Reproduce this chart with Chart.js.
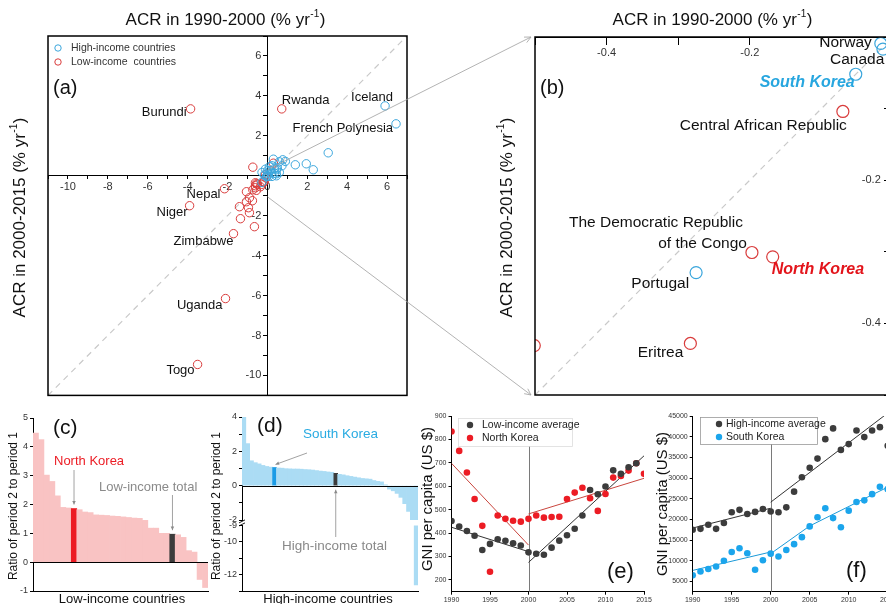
<!DOCTYPE html>
<html>
<head>
<meta charset="utf-8">
<title>ACR figure</title>
<script src="https://cdn.jsdelivr.net/npm/chart.js@4.4.1/dist/chart.umd.min.js"></script>
<style>
  html, body { margin: 0; padding: 0; background: #fff; overflow: hidden; }
  #fig { position: relative; width: 886px; height: 604px; overflow: hidden; background: #fff; }
  #fig canvas { position: absolute; }
</style>
</head>
<body>
<div id="fig">
  <canvas id="chartA" width="540" height="404" style="left:0px;top:0px"></canvas>
  <canvas id="chartB" width="470" height="404" style="left:440px;top:0px"></canvas>
  <canvas id="chartC" width="215" height="204" style="left:0px;top:400px"></canvas>
  <canvas id="chartD" width="215" height="204" style="left:210px;top:400px"></canvas>
  <canvas id="chartD2" width="215" height="86" style="left:210px;top:518px"></canvas>
  <canvas id="chartE" width="256" height="204" style="left:400px;top:400px"></canvas>
  <canvas id="chartF" width="260" height="204" style="left:640px;top:400px"></canvas>
</div>
<script>
// ---- (a)/(b) ACR in 1990-2000 (x) vs 2000-2015 (y), % per yr
// named countries first, the rest are unlabelled circles
const highName = ['Iceland', 'French Polynesia', 'Norway', 'Canada', 'South Korea', 'Portugal'];
const highX = [5.9, 6.45, -0.017, -0.014, -0.052, -0.275,
  3.05, 1.95, 2.3, 1.4, 0.9, 0.77, 0.3, 0.6, 0.5, 0.35, 0.1, 0.6, 0.45, 0.2, 0.0,
  -0.27, -0.1, 0.02, 0.15, 0.23, 0.47, 0.73, 0.07, -0.15, 0.23, 0.45, 0.35];
const highY = [3.5, 2.6, -0.009, -0.017, -0.052, -0.329,
  1.15, 0.6, 0.3, 0.55, 0.72, 0.8, 0.83, 0.7, 0.4, 0.35, 0.45, 0.17, 0.1, 0.15, 0.25,
  0.17, 0.33, 0.13, 0.27, 0.5, 0.33, 0.5, -0.03, 0.04, -0.03, 0.0, 0.13];

const lowName = ['Burundi', 'Rwanda', 'Nepal', 'Niger', 'Zimbabwe', 'Uganda', 'Togo',
  'Central African Republic', 'The Democratic Republic of the Congo', 'North Korea', 'Eritrea'];
const lowX = [-3.85, 0.72, -2.15, -3.9, -1.7, -2.1, -3.5, -0.07, -0.197, -0.168, -0.283,
  -0.501, -0.73, 0.3, -0.6, -1.05, -0.73, -0.55, -0.9, -0.75, -1.05, -1.4, -0.95, -1.35, -0.9, -0.65,
  -0.35, -0.55, -0.6, -0.1, -0.6];
const lowY = [3.35, 3.35, -0.65, -1.5, -2.9, -6.15, -9.45, -0.104, -0.301, -0.307, -0.428,
  -0.431, 0.43, 0.63, -0.35, -0.8, -0.7, -0.73, -1.1, -1.25, -1.3, -1.55, -1.6, -2.15, -1.85, -2.55,
  -0.55, -0.4, -0.5, 0.04, -0.6];

// ---- (c)/(d) ratio of period 2 to period 1, sorted
const lowRatio = [4.48, 4.25, 3.02, 2.8, 2.3, 1.9, 1.88, 1.86, 1.82, 1.74, 1.72, 1.64, 1.63, 1.62,
  1.6, 1.59, 1.57, 1.55, 1.53, 1.52, 1.45, 1.18, 1.18, 1.0, 1.0, 0.97, 0.95, 0.86, 0.4, 0.35, -0.6, -0.88];
const lowKeyNames = ['North Korea', 'Low-income total'];
const lowKeyIdx = [7, 25];

const highRatio = [4.0, 2.45, 1.45, 1.34, 1.27, 1.18, 1.12, 1.08, 1.06, 1.03, 1.02, 0.99, 0.98, 0.97,
  0.97, 0.96, 0.94, 0.93, 0.91, 0.88, 0.85, 0.83, 0.8, 0.78, 0.72, 0.66, 0.63, 0.58, 0.54, 0.5, 0.46,
  0.42, 0.4, 0.38, 0.3, 0.25, 0.22, 0.05, -0.2, -0.3, -0.45, -0.68, -1.05, -1.5, -2.5, -12.6];
const highKeyNames = ['South Korea', 'High-income total'];
const highKeyIdx = [8, 24];

// ---- (e)/(f) GNI per capita, US $
const gniYears = [1990, 1991, 1992, 1993, 1994, 1995, 1996, 1997, 1998, 1999, 2000, 2001, 2002,
  2003, 2004, 2005, 2006, 2007, 2008, 2009, 2010, 2011, 2012, 2013, 2014, 2015];
const lowAvgGni = [452, 428, 409, 389, 328, 354, 374, 367, 357, 347, 318, 312, 308, 338, 368, 391,
  419, 475, 584, 566, 599, 668, 653, 681, 698, null];
const nkGni = [834, 751, 659, 546, 431, 235, 475, 461, 453, 449, 461, 475, 466, 469, 470, 546, 573,
  594, 549, 495, 567, 637, 644, 667, 698, 653];
const highAvgGni = [17500, 17700, 18700, 17700, 19100, 21700, 22300, 21300, 21800, 22500, 21900,
  21700, 22900, 26700, 30200, 32500, 34700, 39400, 42000, 36800, 38200, 41500, 39900, 41500, 42300, 37800];
const skGni = [6450, 7400, 8000, 8600, 10000, 12100, 13000, 11800, 7800, 10100, 11700, 11000, 12600,
  14000, 15700, 18300, 20500, 22700, 20300, 18100, 22100, 24200, 24600, 26100, 27900, 27300];
const gniLowTicks = [200, 300, 400, 500, 600, 700, 800, 900];
const gniHighTicks = [5000, 10000, 15000, 20000, 25000, 30000, 35000, 40000, 45000];

// fitted trend lines
const breakYear = 2000;
const fitYears1 = [1990, 2000];
const fitYears2 = [2000, 2015];
const lowAvgFit1 = [425, 321];
const lowAvgFit2 = [275, 730];
const nkFit1 = [698, 349];
const nkFit2 = [482, 634];
const highAvgFit1 = [17900, 22700];
const highAvgFit2 = [24150, 45700];
const skFit1 = [7650, 12100];
const skFitYears2 = [2000, 2005, 2015];
const skFit2 = [11700, 18400, 27800];

// ---- styles
const FF = '"Liberation Sans", Arial, Helvetica, sans-serif';
const BLUE = '#3ba6dc', RED = '#d93c3c';
const NK_RED = '#ec1c24', DARK = '#3c3c3c', PINK = '#f9c3c3', SKY = '#abdcf4', SK_BLUE = '#1a9be6';
const LABEL_GREY = '#8a8a8a';

Chart.defaults.font.family = FF;
Chart.defaults.color = '#222';
Chart.defaults.animation = false;
Chart.defaults.responsive = false;
Chart.defaults.events = [];
Chart.defaults.plugins.legend.display = false;
Chart.defaults.plugins.tooltip.enabled = false;

const pts = (xs, ys) => xs.map((x, i) => ({x: x, y: ys[i]})).filter(p => p.y !== null);

function put(ctx, s, x, y, size, color, align, style) {
  ctx.save();
  ctx.font = (style ? style + ' ' : '') + size + 'px ' + FF;
  ctx.fillStyle = color || '#111';
  ctx.textAlign = align || 'left';
  ctx.textBaseline = 'middle';
  ctx.fillText(s, x, y);
  ctx.restore();
}
function putV(ctx, s, x, y, size, color) {
  ctx.save();
  ctx.translate(x, y);
  ctx.rotate(-Math.PI / 2);
  put(ctx, s, 0, 0, size, color, 'center');
  ctx.restore();
}
// "ACR in .... (% yr-1)" with the superscript
function acrTitle(ctx, period, x, y, rotate) {
  const size = 17, small = 10;
  const base = 'ACR in ' + period + ' (% yr', sup = '-1', tail = ')';
  ctx.save();
  ctx.translate(x, y);
  if (rotate) ctx.rotate(-Math.PI / 2);
  ctx.fillStyle = '#111';
  ctx.textBaseline = 'middle';
  ctx.textAlign = 'left';
  ctx.font = size + 'px ' + FF;
  const w1 = ctx.measureText(base).width, w3 = ctx.measureText(tail).width;
  ctx.font = small + 'px ' + FF;
  const w2 = ctx.measureText(sup).width;
  let px = -(w1 + w2 + w3) / 2;
  ctx.font = size + 'px ' + FF;
  ctx.fillText(base, px, 0);
  px += w1;
  ctx.font = small + 'px ' + FF;
  ctx.fillText(sup, px + 0.5, -6);
  px += w2 + 1;
  ctx.font = size + 'px ' + FF;
  ctx.fillText(tail, px, 0);
  ctx.restore();
}
function arrow(ctx, x1, y1, x2, y2, color, head, filled, lw) {
  const a = Math.atan2(y2 - y1, x2 - x1);
  ctx.save();
  ctx.strokeStyle = color;
  ctx.fillStyle = color;
  ctx.lineWidth = lw || 1;
  ctx.beginPath();
  ctx.moveTo(x1, y1);
  ctx.lineTo(x2, y2);
  ctx.stroke();
  ctx.beginPath();
  if (filled) {
    ctx.moveTo(x2, y2);
    ctx.lineTo(x2 - head * Math.cos(a - 0.45), y2 - head * Math.sin(a - 0.45));
    ctx.lineTo(x2 - head * Math.cos(a + 0.45), y2 - head * Math.sin(a + 0.45));
    ctx.closePath();
    ctx.fill();
  } else {
    ctx.moveTo(x2 - head * Math.cos(a - 0.45), y2 - head * Math.sin(a - 0.45));
    ctx.lineTo(x2, y2);
    ctx.lineTo(x2 - head * Math.cos(a + 0.45), y2 - head * Math.sin(a + 0.45));
    ctx.stroke();
  }
  ctx.restore();
}
function drawTags(chart, di, names, tags, size) {
  const meta = chart.getDatasetMeta(di);
  names.forEach((n, i) => {
    const t = tags[n];
    if (!t) return;
    const p = meta.data[i];
    const lines = t.lines || [[n, t.dx, t.dy]];
    lines.forEach(l => put(chart.ctx, l[0], p.x + l[1], p.y + l[2], t.size || size, t.color || '#111', t.align, t.style));
  });
}
function frame(chart, lw) {
  const a = chart.chartArea, ctx = chart.ctx;
  ctx.save();
  ctx.strokeStyle = '#000';
  ctx.lineWidth = lw;
  ctx.strokeRect(a.left, a.top, a.right - a.left, a.bottom - a.top);
  ctx.restore();
}
function zeroLine(chart) {
  const a = chart.chartArea, ctx = chart.ctx, y = chart.scales.y.getPixelForValue(0);
  if (y < a.top || y > a.bottom) return;
  ctx.save();
  ctx.strokeStyle = '#000';
  ctx.lineWidth = 1;
  ctx.beginPath();
  ctx.moveTo(a.left, Math.round(y) + 0.5);
  ctx.lineTo(a.right, Math.round(y) + 0.5);
  ctx.stroke();
  ctx.restore();
}

// label placement next to the circles (px)
const tagA = {
  'Burundi': {dx: -4, dy: 4, align: 'right'},
  'Rwanda': {dx: 0, dy: -8, align: 'left'},
  'Iceland': {dx: -13, dy: -8, align: 'center'},
  'French Polynesia': {dx: -3, dy: 5, align: 'right'},
  'Nepal': {dx: -4, dy: 6, align: 'right'},
  'Niger': {dx: -2, dy: 7, align: 'right'},
  'Zimbabwe': {dx: 0, dy: 8, align: 'right'},
  'Uganda': {dx: -3, dy: 7, align: 'right'},
  'Togo': {dx: -3, dy: 6, align: 'right'}
};
const tagB = {
  'Norway': {dx: -9, dy: -1, align: 'right'},
  'Canada': {dx: -53, dy: 11, align: 'left'},
  'South Korea': {dx: -1, dy: 8, align: 'right', style: 'italic bold', color: '#27a6df', size: 16},
  'Central African Republic': {dx: 4, dy: 14, align: 'right'},
  'The Democratic Republic of the Congo': {align: 'right',
    lines: [['The Democratic Republic', -9, -30], ['of the Congo', -5, -9]]},
  'North Korea': {dx: -1, dy: 13, align: 'left', style: 'italic bold', color: '#e3141b', size: 16},
  'Portugal': {dx: -7, dy: 11, align: 'right'},
  'Eritrea': {dx: -7, dy: 9, align: 'right'}
};

function acrScale(min, max, step, pos, labelFn, tick, font) {
  return {
    type: 'linear', min: min, max: max, position: pos,
    ticks: {stepSize: step, autoSkip: false, maxRotation: 0, includeBounds: false,
      font: {size: font}, color: '#333', padding: 2, callback: labelFn},
    grid: {drawOnChartArea: false, drawTicks: true, tickLength: tick, tickColor: '#000'},
    border: {color: '#000', width: 1}
  };
}
function circles(xs, ys, color, r, lw) {
  return {data: pts(xs, ys), pointRadius: r, pointBorderWidth: lw, pointBorderColor: color,
    pointBackgroundColor: 'rgba(0,0,0,0)', showLine: false, clip: 0, order: 1};
}
function diagonal(lo, hi) {
  return {data: [{x: lo, y: lo}, {x: hi, y: hi}], showLine: true, borderColor: '#c9c9c9',
    borderDash: [6, 5], borderWidth: 1.2, pointRadius: 0, order: 3};
}

//-----(b) zoom of the origin
// a y axis sitting on x=0 puts its labels flush on the line, so pad them with spaces
const bMin = -0.5, bMaxX = 0.0098;
const tenths = v => {
  const k = Math.round(v * 10);
  return (k % 2 === 0 && k !== 0) ? (k / 10).toFixed(1) : '';
};
const chartB = new Chart(document.getElementById('chartB'), {
  type: 'scatter',
  data: {datasets: [
    circles(highX, highY, BLUE, 6, 1.2),
    circles(lowX, lowY, RED, 6, 1.2),
    diagonal(bMin, 0)
  ]},
  options: {
    layout: {padding: {left: 95, top: 37, right: 10, bottom: 9}},
    scales: {
      x: acrScale(bMin, bMaxX, 0.1, {y: 0}, tenths, 7, 11),
      y: acrScale(bMin, 0, 0.1, {x: 0}, v => (tenths(v) ? tenths(v) + '    ' : ''), 8, 11)
    }
  },
  plugins: [{id: 'panelB', afterDraw(c) {
    const ctx = c.ctx;
    frame(c, 1.5);
    acrTitle(ctx, '1990-2000', 272, 20, false);
    acrTitle(ctx, '2000-2015', 67, 218, true);
    put(ctx, '(b)', 100, 88, 20, '#111');
    drawTags(c, 0, highName, tagB, 15.5);
    drawTags(c, 1, lowName, tagB, 15.5);
  }}]
});

//-----(a) all countries
const aMin = -11, aMax = 7;
const zoomFrom = [[0, 0.3], [0, -1.05]];
new Chart(document.getElementById('chartA'), {
  type: 'scatter',
  data: {datasets: [
    circles(highX, highY, BLUE, 4.2, 1),
    circles(lowX, lowY, RED, 4.2, 1),
    diagonal(aMin, aMax)
  ]},
  options: {
    layout: {padding: {left: 48, top: 36, right: 133, bottom: 8}},
    scales: {
      x: acrScale(aMin, aMax, 1, {y: 0}, v => (v % 2 === 0 ? v : ''), 3, 11),
      y: acrScale(aMin, aMax, 1, {x: 0}, v => (v % 2 === 0 && v !== 0 ? v + '  ' : ''), 4, 11)
    }
  },
  plugins: [{id: 'panelA', afterDraw(c) {
    const ctx = c.ctx, xs = c.scales.x, ys = c.scales.y;
    frame(c, 1.5);
    acrTitle(ctx, '1990-2000', 225, 20, false);
    acrTitle(ctx, '2000-2015', 20, 218, true);
    put(ctx, '(a)', 53, 88, 20, '#111');
    // legend
    [['High-income countries', BLUE, 48], ['Low-income  countries', RED, 62]].forEach(l => {
      ctx.save();
      ctx.strokeStyle = l[1];
      ctx.lineWidth = 1;
      ctx.beginPath();
      ctx.arc(58, l[2], 3.2, 0, Math.PI * 2);
      ctx.stroke();
      ctx.restore();
      put(ctx, l[0], 71, l[2], 10.5, '#333');
    });
    drawTags(c, 0, highName, tagA, 13);
    drawTags(c, 1, lowName, tagA, 13);
    // guide lines to panel (b)
    const bA = chartB.chartArea, off = 440;
    const ends = [[bA.left + off - 4, bA.top], [bA.left + off - 4, bA.bottom]];
    zoomFrom.forEach((f, i) => {
      arrow(ctx, xs.getPixelForValue(f[0]), ys.getPixelForValue(f[1]), ends[i][0], ends[i][1], '#a0a0a0', 7, false, 0.8);
    });
  }}]
});

//-----(c) low-income ratio
const ratioTicks = (min, max, step, labelFn) => ({
  min: min, max: max,
  ticks: {stepSize: step, autoSkip: false, font: {size: 9}, color: '#333', padding: 2, callback: labelFn},
  grid: {drawOnChartArea: false, tickLength: 3, tickColor: '#000'},
  border: {color: '#000', width: 1}
});
const hiddenX = (h, show) => ({
  ticks: {display: false},
  grid: {display: false, drawTicks: false},
  border: {display: show, color: '#000', width: 1},
  afterFit: s => { s.height = h; }
});
new Chart(document.getElementById('chartC'), {
  type: 'bar',
  data: {
    labels: lowRatio.map((_, i) => i + 1),
    datasets: [{
      data: lowRatio,
      backgroundColor: lowRatio.map((_, i) => i === lowKeyIdx[0] ? NK_RED : i === lowKeyIdx[1] ? DARK : PINK),
      borderWidth: 0, barPercentage: 1, categoryPercentage: 1, clip: 0
    }]
  },
  options: {
    layout: {padding: {left: 0, top: 18, right: 7, bottom: 0}},
    scales: {
      x: hiddenX(13, true),
      y: Object.assign(ratioTicks(-1, 5, 1, v => v), {afterFit: s => { s.width = 33; }})
    }
  },
  plugins: [{id: 'panelC',
    afterDatasetsDraw(c) { zeroLine(c); },
    afterDraw(c) {
      const ctx = c.ctx, xs = c.scales.x, ys = c.scales.y;
      put(ctx, '(c)', 53, 28, 21, '#111');
      put(ctx, lowKeyNames[0], 54, 61, 13, NK_RED);
      put(ctx, lowKeyNames[1], 99, 87, 13, LABEL_GREY);
      const nx = xs.getPixelForValue(lowKeyIdx[0]), ny = ys.getPixelForValue(lowRatio[lowKeyIdx[0]]);
      arrow(ctx, nx, 70, nx, ny - 4, LABEL_GREY, 4, true, 0.8);
      const tx = xs.getPixelForValue(lowKeyIdx[1]), ty = ys.getPixelForValue(lowRatio[lowKeyIdx[1]]);
      arrow(ctx, tx, 95, tx, ty - 4, LABEL_GREY, 4, true, 0.8);
      putV(ctx, 'Ratio of period 2 to period 1', 14, 106, 12, '#111');
      put(ctx, 'Low-income countries', 122, 199, 13, '#111', 'center');
    }
  }]
});

//-----(d) high-income ratio, broken axis: upper [-2,4] and lower [-13,-9]
const highColors = highRatio.map((_, i) => i === highKeyIdx[0] ? SK_BLUE : i === highKeyIdx[1] ? DARK : SKY);
const highBars = () => ({
  labels: highRatio.map((_, i) => i + 1),
  datasets: [{data: highRatio, backgroundColor: highColors, borderWidth: 0,
    barPercentage: 1, categoryPercentage: 1, clip: 0}]
});
new Chart(document.getElementById('chartD'), {
  type: 'bar',
  data: highBars(),
  options: {
    layout: {padding: {left: 0, top: 17, right: 7, bottom: 84}},
    scales: {
      x: hiddenX(0, false),
      y: Object.assign(ratioTicks(-2, 4, 1, v => (v % 2 === 0 ? v : '')), {afterFit: s => { s.width = 32; }})
    }
  },
  plugins: [{id: 'panelD',
    afterDatasetsDraw(c) { zeroLine(c); },
    afterDraw(c) {
      const ctx = c.ctx, xs = c.scales.x, ys = c.scales.y;
      put(ctx, '(d)', 47, 26, 21, '#111');
      put(ctx, highKeyNames[0], 93, 34, 13.5, '#29abe2');
      const sx = xs.getPixelForValue(highKeyIdx[0]), sy = ys.getPixelForValue(highRatio[highKeyIdx[0]]);
      arrow(ctx, 97, 53, sx + 1, sy - 3, LABEL_GREY, 4, true, 0.8);
      put(ctx, highKeyNames[1], 72, 146, 13.5, LABEL_GREY);
      const hx = xs.getPixelForValue(highKeyIdx[1]), hy = ys.getPixelForValue(0);
      arrow(ctx, hx, 137, hx, hy + 4, LABEL_GREY, 4, true, 0.8);
      putV(ctx, 'Ratio of period 2 to period 1', 7, 106, 12, '#111');
      put(ctx, 'High-income countries', 118, 199, 13, '#111', 'center');
    }
  }]
});
new Chart(document.getElementById('chartD2'), {
  type: 'bar',
  data: highBars(),
  options: {
    layout: {padding: {left: 0, top: 5, right: 7, bottom: 0}},
    scales: {
      x: hiddenX(12.5, true),
      y: Object.assign(ratioTicks(-13, -9, 1, v => (v === -9 || v % 2 === 0 ? v : '')), {afterFit: s => { s.width = 32; }})
    }
  },
  plugins: [{id: 'panelD2', afterDraw(c) {
    const ctx = c.ctx, a = c.chartArea;
    // axis break mark
    ctx.save();
    ctx.strokeStyle = '#000';
    ctx.lineWidth = 0.9;
    [-4, -1].forEach(d => {
      ctx.beginPath();
      ctx.moveTo(a.left - 3, a.top + d + 1.5);
      ctx.lineTo(a.left + 3, a.top + d - 1.5);
      ctx.stroke();
    });
    ctx.restore();
  }}]
});

//-----(e)/(f) GNI per capita time series
function gniChart(id, pad, yMin, yMax, yTicks, dots, fits, legend, tag, yLabelPos) {
  const yw = pad.yw;
  return new Chart(document.getElementById(id), {
    type: 'scatter',
    data: {datasets: dots.map(d => ({data: pts(gniYears, d[0]), pointRadius: 3.3, pointBorderWidth: 0,
        pointBackgroundColor: d[1], showLine: false, order: 0}))
      .concat(fits.map(f => ({data: pts(f[0], f[1]), showLine: true, borderColor: f[2], borderWidth: 1,
        pointRadius: 0, order: 2})))},
    options: {
      layout: {padding: {left: 0, top: 16, right: pad.right, bottom: 0}},
      scales: {
        x: {type: 'linear', min: 1990, max: 2015,
          ticks: {stepSize: 5, autoSkip: false, maxRotation: 0, font: {size: 7}, color: '#333', padding: 1,
            callback: v => String(v)},
          grid: {drawOnChartArea: false, tickLength: 3, tickColor: '#000'},
          border: {color: '#000', width: 1},
          afterFit: s => { s.height = 12.3; }},
        y: {type: 'linear', min: yMin, max: yMax,
          ticks: {display: false, autoSkip: false, font: {size: 7}, callback: v => String(v)},
          afterBuildTicks: s => { s.ticks = yTicks.map(v => ({value: v})); },
          grid: {drawOnChartArea: false, drawTicks: true, tickLength: 3, tickColor: '#000'},
          border: {color: '#000', width: 1},
          afterFit: s => { s.width = yw; }}
      }
    },
    plugins: [{id: id + 'Deco',
      beforeDatasetsDraw(c) {
        const ctx = c.ctx, a = c.chartArea, x = c.scales.x.getPixelForValue(breakYear);
        ctx.save();
        ctx.strokeStyle = '#7a7a7a';
        ctx.lineWidth = 1;
        ctx.beginPath();
        ctx.moveTo(Math.round(x) + 0.5, a.bottom);
        ctx.lineTo(Math.round(x) + 0.5, a.top + 15);
        ctx.stroke();
        ctx.restore();
      },
      afterDraw(c) {
        const ctx = c.ctx, b = legend.box, ys = c.scales.y, a = c.chartArea;
        // y tick labels from the scale's own ticks
        ys.ticks.forEach(t => put(ctx, String(t.value), a.left - 5, ys.getPixelForValue(t.value), 7, '#333', 'right'));
        ctx.save();
        ctx.fillStyle = '#fff';
        ctx.fillRect(b[0], b[1], b[2], b[3]);
        ctx.strokeStyle = legend.border;
        ctx.lineWidth = 0.8;
        ctx.strokeRect(b[0] + 0.5, b[1] + 0.5, b[2], b[3]);
        ctx.restore();
        legend.items.forEach((it, i) => {
          const y = b[1] + 7 + i * 13;
          ctx.save();
          ctx.fillStyle = it[1];
          ctx.beginPath();
          ctx.arc(legend.dotX, y, 3.2, 0, Math.PI * 2);
          ctx.fill();
          ctx.restore();
          put(ctx, it[0], legend.textX, y, 10.5, '#222');
        });
        put(ctx, tag[0], tag[1], tag[2], 22, '#111');
        putV(ctx, 'GNI per capita (US $)', yLabelPos[0], yLabelPos[1], 15, '#111');
      }
    }]
  });
}

gniChart('chartE', {right: 12, yw: 51.5}, 150, 900, gniLowTicks,
  [[lowAvgGni, DARK], [nkGni, NK_RED]],
  [[fitYears1, lowAvgFit1, '#333'], [fitYears2, lowAvgFit2, '#333'],
   [fitYears1, nkFit1, '#c9453d'], [fitYears2, nkFit2, '#c9453d']],
  {box: [58, 18, 114, 28], border: '#dddddd', dotX: 70, textX: 82,
   items: [['Low-income average', DARK], ['North Korea', NK_RED]]},
  ['(e)', 207, 172], [28, 99]);

gniChart('chartF', {right: 12.3, yw: 52.7}, 2500, 45000, gniHighTicks,
  [[highAvgGni, DARK], [skGni, '#1ba5ec']],
  [[fitYears1, highAvgFit1, '#333'], [fitYears2, highAvgFit2, '#333'],
   [fitYears1, skFit1, '#1b9ad8'], [skFitYears2, skFit2, '#1b9ad8']],
  {box: [60, 17, 117, 27], border: '#9a9a9a', dotX: 79, textX: 86,
   items: [['High-income average', DARK], ['South Korea', '#1ba5ec']]},
  ['(f)', 206, 171], [23, 104]);
</script>
</body>
</html>
